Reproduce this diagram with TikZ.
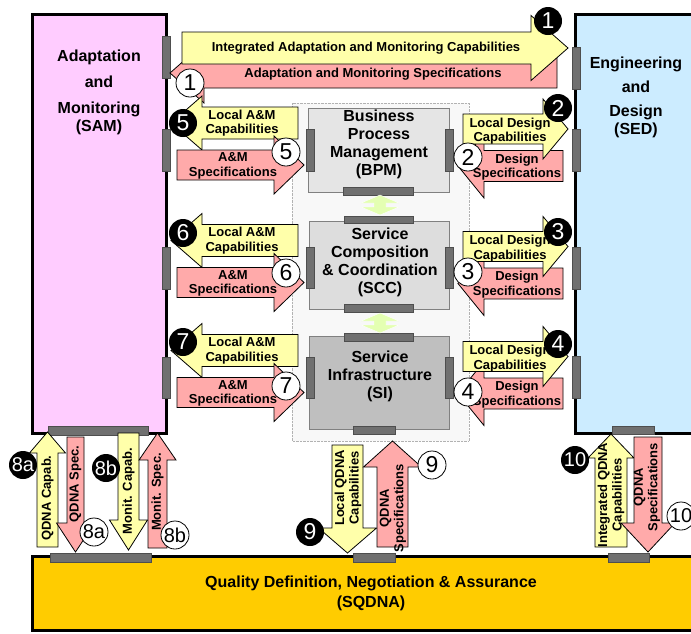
\documentclass[tikz,border=0pt]{standalone}
\usepackage{fontspec}
\setmainfont{Liberation Sans}
\usepackage{tikz}

\definecolor{amarillo}{RGB}{255,255,170}
\definecolor{rosa}{RGB}{255,170,170}
\definecolor{lila}{RGB}{255,204,255}
\definecolor{celeste}{RGB}{204,236,255}
\definecolor{oro}{RGB}{255,204,0}
\definecolor{grisbarra}{RGB}{112,112,112}
\definecolor{verdoso}{RGB}{228,255,178}
\definecolor{fondo}{RGB}{248,248,248}

% flecha de bloque horizontal: estilo, cola, base de punta, punta, y, semiancho, semipunta
\newcommand{\hflecha}[7]{%
	\draw[#1] (#2,{#5-#6}) -- (#3,{#5-#6}) -- (#3,{#5-#7}) -- (#4,{#5})
		-- (#3,{#5+#7}) -- (#3,{#5+#6}) -- (#2,{#5+#6}) -- cycle;}
% flecha de bloque vertical: estilo, cola, base de punta, punta, x, semiancho, semipunta
\newcommand{\vflecha}[7]{%
	\draw[#1] ({#5-#6},#2) -- ({#5-#6},#3) -- ({#5-#7},#3) -- ({#5},#4)
		-- ({#5+#7},#3) -- ({#5+#6},#3) -- ({#5+#6},#2) -- cycle;}

\begin{document}
\begin{tikzpicture}[
	x = 1pt, y = -1pt,
	caja/.style = {draw = black, line width = 3pt},
	capa/.style = {draw = gray, line width = 0.8pt},
	barra/.style = {fill = grisbarra, draw = grisbarra!70!black, line width = 0.4pt},
	capac/.style = {fill = amarillo, draw = black, line width = 0.8pt},
	espec/.style = {fill = rosa, draw = black, line width = 0.8pt},
	titulo/.style = {font = \bfseries\fontsize{16}{18}\selectfont, align = center},
	etiqueta/.style = {font = \bfseries\fontsize{13}{14.5}\selectfont, align = center, inner sep = 0pt},
	numneg/.style = {circle, fill = black, text = white, inner sep = 0pt,
		minimum size = 28pt, font = \fontsize{23}{23}\selectfont},
	numbla/.style = {numneg, fill = white, draw = black, text = black, line width = 0.8pt},
	doble/.style = {font = \fontsize{20}{20}\selectfont},
]

	% márgenes del dibujo
	\useasboundingbox (0,0) rectangle (691,633);
	\clip (0,0) rectangle (691,633);

	% fondo de las capas
	\draw[gray!60, densely dotted, fill = fondo] (292,103) rectangle (469,441);

	% cajas grandes
	\draw[caja, fill = lila] (32,14) rectangle (166,433);
	\draw[caja, fill = celeste] (575,14) rectangle (710,433);
	\draw[caja, fill = oro] (32,556) rectangle (710,630);

	% capas
	\draw[capa, fill = gray!20] (308,108) rectangle (449,192);
	\draw[capa, fill = gray!27] (309,221) rectangle (449,309);
	\draw[capa, fill = gray!50] (309,336) rectangle (449,429);

	% interfaces
	\foreach \xa/\ya/\xb/\yb in {
		162/36/170/78, 162/129/170/171, 162/247/170/289, 162/357/170/398,
		572/47/580/89, 572/129/580/171, 572/247/580/289, 572/356/580/398,
		48/426/148/435, 612/426/654/434,
		50/553/151/562, 353/553/395/562, 608/553/649/562,
		306/129/314/171, 445/129/453/171, 343/187/413/195,
		344/216/413/223, 344/304/413/312, 306/247/314/288, 445/247/453/288,
		344/333/413/341, 306/357/314/398, 445/357/453/398, 353/426/395/434}
		\draw[barra] (\xa,\ya) rectangle (\xb,\yb);

	% flechas dobles entre capas
	\foreach \y in {195,313}
		\draw[white, fill = verdoso, line width = 0.4pt]
			(380,\y) -- (399,{\y+8}) -- (386,{\y+8}) -- (386,{\y+12})
			-- (399,{\y+12}) -- (380,{\y+20}) -- (361,{\y+12}) -- (374,{\y+12})
			-- (374,{\y+8}) -- (361,{\y+8}) -- cycle;

	% flechas superiores
	\hflecha{espec}{557}{204}{170}{73}{15}{30}
	\hflecha{capac}{182}{531}{568}{48}{16}{32.5}
	\node[etiqueta] (intcap) at (366,48) {Integrated Adaptation and Monitoring Capabilities};
	\node[etiqueta] (intspec) at (373,74) {Adaptation and Monitoring Specifications};

	% flechas de cada capa
	\foreach \c/\n/\m/\bl/\wl/\br/\wr in {
		150/5/2/123/152/108/157,
		267.5/6/3/233/273/232/272,
		377.5/7/4/342/386/344/392}{
		% lado izquierdo
		\hflecha{capac}{298}{202}{171}{\c-27}{16}{27}
		\hflecha{espec}{177}{274}{304}{\c+15}{15}{29}
		% lado derecho
		\hflecha{espec}{563}{484}{458}{\c+16}{15.5}{32}
		\hflecha{capac}{463}{543}{568}{\c-21}{15}{30}
		% etiquetas
		\node[etiqueta] (amcap\n) at (242,\c-27) {Local A\&M\\Capabilities};
		\node[etiqueta] (amspec\n) at (233,\c+16) {A\&M\\Specifications};
		\node[etiqueta] (dcap\m) at (510,\c-19) {Local Design\\Capabilities};
		\node[etiqueta] (dspec\m) at (517,\c+17) {Design\\Specifications};
		% números
		\node[numneg] (bn\n) at (183,\bl) {\n};
		\node[numbla] (wn\n) at (286,\wl) {\n};
		\node[numneg] (bn\m) at (558,\br) {\m};
		\node[numbla] (wn\m) at (468,\wr) {\m};
	}

	% flechas inferiores
	\vflecha{capac}{547}{453}{432}{47.5}{10.5}{18}
	\vflecha{espec}{437}{523}{552}{75.5}{8.5}{19}
	\vflecha{capac}{433}{520}{550}{128.5}{10.5}{19}
	\vflecha{espec}{548}{460}{433}{157.5}{9.5}{18.5}
	\vflecha{capac}{445}{528}{553}{347.5}{15.5}{29}
	\vflecha{espec}{547}{467}{441}{392.5}{15.5}{29}
	\vflecha{capac}{547}{458}{434}{611}{16}{23}
	\vflecha{espec}{437}{523}{552}{648}{14}{27}

	\node[etiqueta, rotate = 90] (qcap) at (47.5,498) {QDNA Capab.};
	\node[etiqueta, rotate = 90] (qspec) at (75.5,484) {QDNA Spec.};
	\node[etiqueta, rotate = 90] (mcap) at (128.5,491) {Monit. Capab.};
	\node[etiqueta, rotate = 90] (mspec) at (157.5,492) {Monit. Spec.};
	\node[etiqueta, rotate = 90] (lqcap) at (348,488) {Local QDNA\\Capabilities};
	\node[etiqueta, rotate = 90] (lqspec) at (393,508) {QDNA\\Specifications};
	\node[etiqueta, rotate = 90] (iqcap) at (611,495) {Integrated QDNA\\Capabilities};
	\node[etiqueta, rotate = 90] (iqspec) at (647,487) {QDNA\\Specifications};

	% títulos
	\node[titulo] (sam) at (99,92) {Adaptation\\[8pt]and\\[8pt]Monitoring\\(SAM)};
	\node[titulo] (sed) at (636,97) {Engineering\\[6pt]and\\[6pt]Design\\(SED)};
	\node[titulo] (bpm) at (379,144) {Business\\Process\\Management\\(BPM)};
	\node[titulo] (scc) at (380,262) {Service\\Composition\\\& Coordination\\(SCC)};
	\node[titulo] (si) at (380,376) {Service\\Infrastructure\\(SI)};
	\node[titulo, font = \bfseries\fontsize{16}{20}\selectfont] (sqdna) at (371,593)
		{Quality Definition, Negotiation \& Assurance\\(SQDNA)};

	% números restantes
	\node[numneg] (bn1) at (548,21) {1};
	\node[numbla] (wn1) at (190,83) {1};
	\node[numneg, doble] (bn8a) at (23,465) {8a};
	\node[numbla, doble] (wn8a) at (94,532) {8a};
	\node[numneg, doble] (bn8b) at (106,468) {8b};
	\node[numbla, doble] (wn8b) at (175,535) {8b};
	\node[numneg] (bn9) at (310,532) {9};
	\node[numbla] (wn9) at (432,465) {9};
	\node[numneg, doble] (bn10) at (575,460) {10};
	\node[numbla, doble] (wn10) at (681,516) {10};

\end{tikzpicture}
\end{document}
